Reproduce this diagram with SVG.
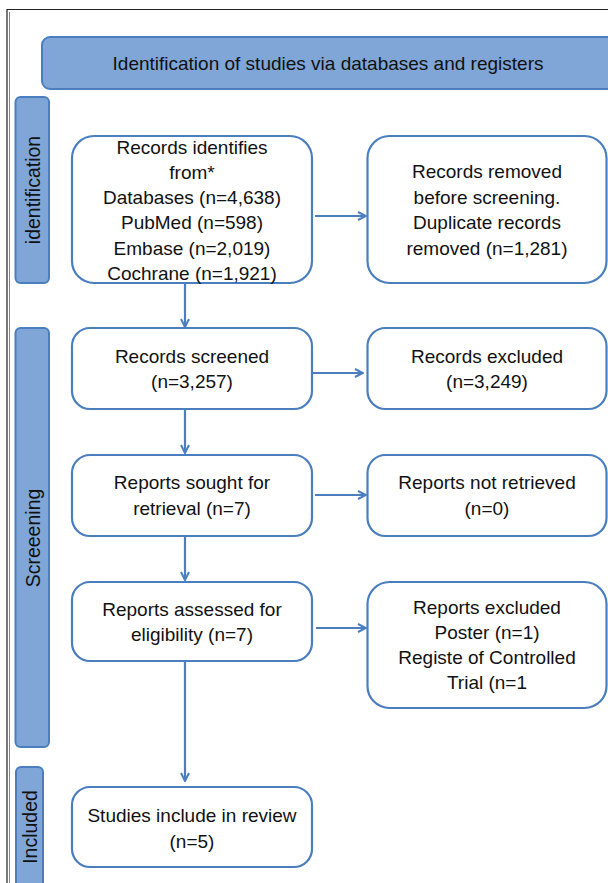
<svg xmlns="http://www.w3.org/2000/svg" width="608" height="883" viewBox="0 0 608 883">
<defs>
<style>
.box{fill:#ffffff;stroke:#4a7ebf;stroke-width:2.2}
.band{fill:#7fa6d6;stroke:#4a7ebf;stroke-width:2}
.t{font-family:"Liberation Sans",Arial,sans-serif;font-size:19px;fill:#111;text-anchor:middle}
.side{font-family:"Liberation Sans",Arial,sans-serif;font-size:19.5px;fill:#111;text-anchor:middle;dominant-baseline:central}
.conn{stroke:#4a7ebf;stroke-width:2.2;fill:none}
</style>
<marker id="arr" markerUnits="userSpaceOnUse" viewBox="0 0 10 10" refX="9" refY="5" markerWidth="10" markerHeight="10" orient="auto">
<path d="M1,1 L9,5 L1,9" fill="none" stroke="#4a7ebf" stroke-width="2"/>
</marker>
</defs>
<rect width="608" height="883" fill="#ffffff"/>
<g id="frame">
<path d="M7,890 V9.5 H612" fill="none" stroke="#222" stroke-width="1.2"/>
<path d="M9.5,890 V12" fill="none" stroke="#666" stroke-width="0.8"/>
</g>
<g id="header">
<rect class="band" x="42" y="37" width="590" height="52" rx="8"/>
<text class="t" x="328" y="70">Identification of studies via databases and registers</text>
</g>
<g id="side-identification">
<rect class="band" x="15.5" y="97" width="33.5" height="186" rx="5"/>
<text class="side" transform="translate(33,190) rotate(-90)">identification</text>
</g>
<g id="side-screening">
<rect class="band" x="15.5" y="328" width="33.5" height="419" rx="5"/>
<text class="side" transform="translate(33,538) rotate(-90)">Screeening</text>
</g>
<g id="side-included">
<rect class="band" x="16" y="767" width="27" height="130" rx="5"/>
<text class="side" transform="translate(30,827) rotate(-90)">Included</text>
</g>
<g id="records-identified">
<rect class="box" x="72" y="136" width="240" height="147" rx="22"/>
<text class="t" x="192" y="154">Records identifies</text>
<text class="t" x="192" y="179">from*</text>
<text class="t" x="192" y="204">Databases (n=4,638)</text>
<text class="t" x="192" y="229">PubMed (n=598)</text>
<text class="t" x="192" y="255">Embase (n=2,019)</text>
<text class="t" x="192" y="280">Cochrane (n=1,921)</text>
</g>
<g id="records-removed">
<rect class="box" x="367.5" y="136" width="239" height="147" rx="22"/>
<text class="t" x="487" y="178">Records removed</text>
<text class="t" x="487" y="204">before screening.</text>
<text class="t" x="487" y="229">Duplicate records</text>
<text class="t" x="487" y="255">removed (n=1,281)</text>
</g>
<g id="records-screened">
<rect class="box" x="72" y="328" width="240" height="81" rx="18"/>
<text class="t" x="192" y="363">Records screened</text>
<text class="t" x="192" y="388">(n=3,257)</text>
</g>
<g id="records-excluded">
<rect class="box" x="367.5" y="328" width="239" height="81" rx="18"/>
<text class="t" x="487" y="363">Records excluded</text>
<text class="t" x="487" y="388">(n=3,249)</text>
</g>
<g id="reports-sought">
<rect class="box" x="72" y="455" width="240" height="81" rx="18"/>
<text class="t" x="192" y="489">Reports sought for</text>
<text class="t" x="192" y="515">retrieval (n=7)</text>
</g>
<g id="reports-not-retrieved">
<rect class="box" x="367.5" y="455" width="239" height="81" rx="18"/>
<text class="t" x="487" y="489">Reports not retrieved</text>
<text class="t" x="487" y="515">(n=0)</text>
</g>
<g id="reports-assessed">
<rect class="box" x="72" y="582" width="240" height="79" rx="18"/>
<text class="t" x="192" y="616">Reports assessed for</text>
<text class="t" x="192" y="641">eligibility (n=7)</text>
</g>
<g id="reports-excluded">
<rect class="box" x="367.5" y="582" width="239" height="126" rx="22"/>
<text class="t" x="487" y="614">Reports excluded</text>
<text class="t" x="487" y="639">Poster (n=1)</text>
<text class="t" x="487" y="664">Registe of Controlled</text>
<text class="t" x="487" y="689">Trial (n=1</text>
</g>
<g id="studies-included">
<rect class="box" x="72" y="787" width="240" height="80" rx="18"/>
<text class="t" x="192" y="822">Studies include in review</text>
<text class="t" x="192" y="848">(n=5)</text>
</g>
<g id="connectors">
<line class="conn" x1="315" y1="216" x2="366" y2="216" marker-end="url(#arr)"/>
<line class="conn" x1="185" y1="283" x2="185" y2="327" marker-end="url(#arr)"/>
<line class="conn" x1="312" y1="373" x2="363" y2="373" marker-end="url(#arr)"/>
<line class="conn" x1="185" y1="409" x2="185" y2="453" marker-end="url(#arr)"/>
<line class="conn" x1="315" y1="495" x2="366" y2="495" marker-end="url(#arr)"/>
<line class="conn" x1="185" y1="536" x2="185" y2="580" marker-end="url(#arr)"/>
<line class="conn" x1="316" y1="628" x2="366" y2="628" marker-end="url(#arr)"/>
<line class="conn" x1="185" y1="661" x2="185" y2="781" marker-end="url(#arr)"/>
</g>
</svg>
